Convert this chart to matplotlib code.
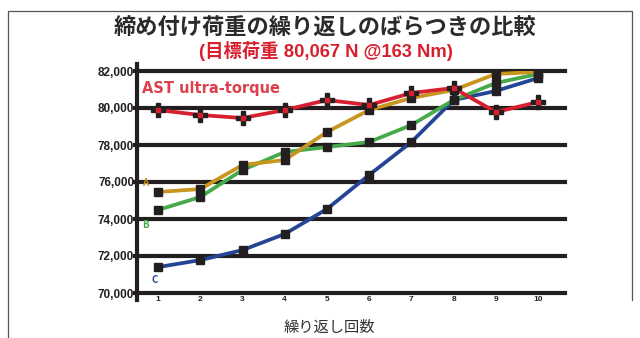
"""plot.py - 締め付け荷重の繰り返しばらつき比較 (4 series, 10 repeats)."""
import matplotlib
matplotlib.use("Agg")
import matplotlib.pyplot as plt                     # noqa: E402
from matplotlib.lines import Line2D                 # noqa: E402

plt.rcParams["font.family"] = ["Noto Sans CJK JP", "DejaVu Sans"]
LATIN = ["Liberation Sans", "Noto Sans CJK JP"]     # Latin first, CJK fallback

RED, GOLD, GREEN, BLUE, INK = "#d71f2e", "#c8951f", "#46a94a", "#244594", "#231f20"

# data (N)
repeats = [1, 2, 3, 4, 5, 6, 7, 8, 9, 10]
red_vals = [79890, 79620, 79460, 79890, 80430, 80160, 80810, 81080, 79780, 80320]
gold_vals = [75460, 75620, 76920, 77190, 78700, 79890, 80540, 80970, 81840, 81950]
green_vals = [74490, 75190, 76650, 77620, 77890, 78160, 79080, 80430, 81350, 81840]
blue_vals = [71400, 71780, 72320, 73190, 74540, 76380, 78160, 80430, 80920, 81620]
y_ticks = [70000, 72000, 74000, 76000, 78000, 80000, 82000]
y_labels = ["70,000", "72,000", "74,000", "76,000", "78,000", "80,000", "82,000"]
series_labels = ["AST ultra-torque", "A", "B", "C"]

W, H = 640, 338
fig = plt.figure(figsize=(W / 100, H / 100), dpi=100)

# outer frame (open at the bottom)
frame = fig.add_axes([0, 0, 1, 1], zorder=-5)
frame.set_xlim(0, W); frame.set_ylim(H, 0); frame.axis("off")
frame.plot([8, 8, 632, 632], [338, 11, 11, 300], color="#555555", lw=0.9)

fig.text(325 / W, 1 - 28 / H, "締め付け荷重の繰り返しのばらつきの比較", ha="center", va="center",
         fontsize=16, fontweight="bold", color="#2b2b2b")
fig.text(326 / W, 1 - 51 / H, "(目標荷重 80,067 N @163 Nm)", ha="center", va="center",
         fontsize=13.2, fontweight="bold", color=RED, family=LATIN)

ax = fig.add_axes([137 / W, 1 - 293 / H, (565 - 137) / W, (293 - 71) / H])
ax.set_xlim(0.5, 10.64)
ax.set_ylim(70000, 82000)
for s in ("top", "right", "bottom"):
    ax.spines[s].set_visible(False)
ax.spines["left"].set_linewidth(3.0)
ax.spines["left"].set_color(INK)
ax.spines["left"].set_bounds(69600, 82400)
for yv in y_ticks:
    ax.add_line(Line2D([0.45, 10.64], [yv, yv], color=INK, lw=3.0, clip_on=False, zorder=1))
ax.set_yticks(y_ticks)
ax.set_yticklabels(y_labels, fontsize=8.5, fontweight="bold", color=INK, family=LATIN)
ax.set_xticks(repeats)
ax.set_xticklabels([str(r) for r in repeats], fontsize=6, fontweight="bold", color=INK,
                   family=LATIN)
ax.tick_params(axis="both", length=0, pad=2)
fig.text(329 / W, 1 - 327 / H, "繰り返し回数", ha="center", va="center",
         fontsize=11, color="#333333")

for vals, col, z in ((blue_vals, BLUE, 3), (green_vals, GREEN, 4),
                     (gold_vals, GOLD, 5), (red_vals, RED, 6)):
    ax.plot(repeats, vals, color=col, lw=2.7, zorder=z, solid_capstyle="butt")
for vals in (blue_vals, green_vals, gold_vals):
    ax.plot(repeats, vals, "s", ms=6, color=INK, zorder=7)
ax.plot(repeats, red_vals, "P", ms=9.5, color=INK, zorder=7)
ax.plot(repeats, red_vals, "s", ms=2.5, color=RED, zorder=8)

# inline series labels
ax.text(0.62, 81050, series_labels[0], fontsize=10.5, fontweight="bold", color=RED,
        alpha=0.85, va="center", family=["DejaVu Sans"])
ax.text(0.62, 75950, series_labels[1], fontsize=7, fontweight="bold", color=GOLD, va="center")
ax.text(0.62, 73700, series_labels[2], fontsize=7, fontweight="bold", color=GREEN, va="center")
ax.text(0.85, 70700, series_labels[3], fontsize=7, fontweight="bold", color=BLUE, va="center")

fig.savefig("out.png", dpi=100)
